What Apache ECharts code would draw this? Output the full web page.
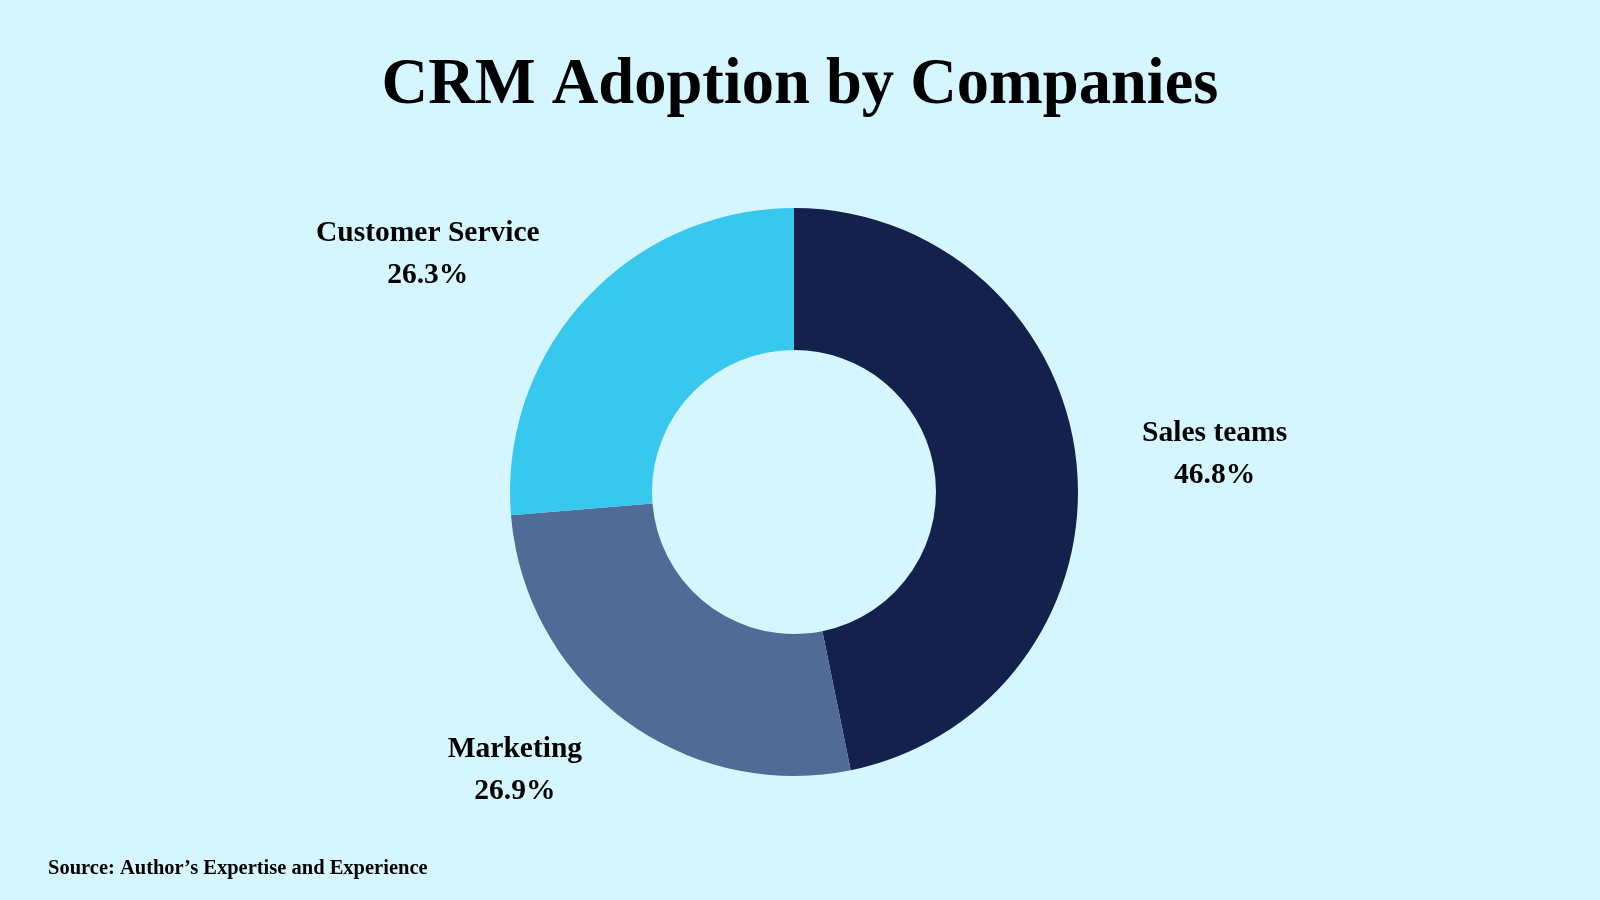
<!DOCTYPE html>
<html>
<head>
<meta charset="utf-8">
<title>CRM Adoption by Companies</title>
<script src="https://cdn.jsdelivr.net/npm/echarts@6/dist/echarts.min.js"></script>
<style>
  html, body { margin: 0; padding: 0; background: #d5f6fe; }
  #chart { width: 1600px; height: 900px; }
</style>
</head>
<body>
<div id="chart"></div>
<script>
  // chart data
  var categories = ['Sales teams', 'Marketing', 'Customer Service'];
  var shares = [46.8, 26.9, 26.3];
  var sliceColors = ['#14214d', '#4f6b96', '#38c8ee'];

  // outside label line lengths per slice (label placement only)
  var labelLen = [88, 64, 66];
  var labelLen2 = [-27, -2, -8];

  var chart = echarts.init(document.getElementById('chart'));

  var pieData = categories.map(function(name, i) {
    return {
      name: name,
      value: shares[i],
      itemStyle: { color: sliceColors[i] },
      labelLine: { length: labelLen[i], length2: labelLen2[i] }
    };
  });

  var option = {
    backgroundColor: '#d5f6fe',
    animation: false,
    title: [{
      text: 'CRM Adoption by Companies',
      left: 'center',
      top: 49,
      textStyle: {
        fontFamily: 'Liberation Serif',
        fontWeight: 'bold',
        fontSize: 64.5,
        color: '#000000'
      }
    }, {
      text: 'Source: Author\u2019s Expertise and Experience',
      left: 43,
      top: 853,
      textStyle: {
        fontFamily: 'Liberation Serif',
        fontWeight: 'bold',
        fontSize: 20.5,
        color: '#000000'
      }
    }],
    series: [{
      type: 'pie',
      center: [794, 492],
      radius: [142, 284],
      startAngle: 90,
      clockwise: true,
      avoidLabelOverlap: false,
      label: {
        show: true,
        position: 'outside',
        formatter: function(p) {
          return p.name + '\n' + p.value.toFixed(1) + '%';
        },
        fontFamily: 'Liberation Serif',
        fontWeight: 'bold',
        fontSize: 29.5,
        lineHeight: 42,
        color: '#000000'
      },
      labelLine: { show: false },
      labelLayout: function(params) {
        var r = params.labelRect;
        return {
          x: r.x + r.width / 2,
          y: r.y + r.height / 2,
          align: 'center',
          verticalAlign: 'middle'
        };
      },
      emphasis: { disabled: true },
      data: pieData
    }]
  };
  chart.setOption(option);
</script>
</body>
</html>
